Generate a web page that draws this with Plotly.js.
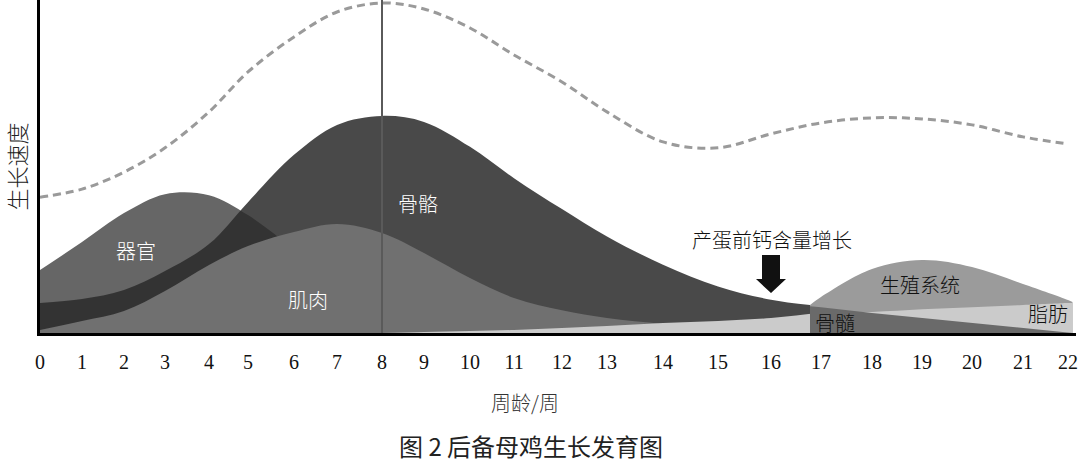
<!DOCTYPE html>
<html>
<head>
<meta charset="utf-8">
<script src="https://cdn.plot.ly/plotly-3.0.1.min.js"></script>
<style>html,body{margin:0;padding:0;background:#fff;}#chart{width:1080px;height:468px;}</style>
</head>
<body>
<div id="chart"></div>
<script>
// ---- data ----
const weeks = [0,1,2,3,4,5,6,7,8,9,10,11,12,13,14,15,16,17,18,19,20,21,22];
const weekLabels = weeks.map(String);
// the reference spaces its week labels unevenly; axis position of each week label
const weekTickPos = [0,42,84,125,169,208,254,297,342,384,430,474,522,567,623,678,731,781,832,882,932,983,1028];

// overall growth rate (dashed curve)
const overallWeeks = weeks;
const overallRate = [40.8,43.2,48.3,55.6,66.4,78.4,88.9,96.4,99.1,97.3,91.6,83.5,75.4,66.4,57.4,55.6,59.8,63.1,64.6,64.3,62.5,58.9,56.8];

// 器官 organs
const organWeeks = [0,1,2,3,4,5,6,7,8,9];
const organRate  = [18.9,27.3,36.0,41.7,41.4,35.4,24.9,12.9,5.4,0];

// 骨骼 skeleton
const skeletonWeeks = [0,1,2,3,4,5,6,7,8,9,10,11,12,13,14,15,16,16.78];
const skeletonRate  = [9.0,10.2,12.9,18.6,26.7,39.3,53.5,62.5,65.2,63.4,55.9,46.5,37.2,29.0,20.5,14.0,10.0,8.4];

// 肌肉 muscle
const muscleWeeks = [0,1,2,3,4,5,6,7,8,9,10,11,12,13,14,15,16];
const muscleRate  = [0.9,3.6,6.6,12.6,20.4,26.1,30.3,32.7,30.0,24.0,16.5,10.5,6.8,4.5,2.7,0.9,0];

// 生殖系统 reproductive system
const reproWeeks = [16.78,17,18,19,20,21,22,22.1];
const reproRate  = [8.4,10.8,19.2,21.9,19.8,14.7,9.9,9.3];

// 脂肪 fat
const fatWeeks = [8,9,10,11,12,13,14,15,16,17,18,19,20,21,22,22.1];
const fatRate  = [0,0.3,0.6,0.9,1.5,2.1,3.0,3.6,4.5,6.0,6.3,7.1,7.7,8.4,9.0,9.0];

// 骨髓 medullary bone
const marrowWeeks = [16.78,17,18,19,20,21,22,22.1];
const marrowRate  = [8.0,7.7,6.0,4.5,3.0,1.5,0.2,0];

// ---- week -> axis position (piecewise through the label positions) ----
function pos(w){
  const n = weeks.length;
  let i = Math.floor(w);
  if (i < 0) i = 0;
  if (i > n-2) i = n-2;
  const t = w - weeks[i];
  return weekTickPos[i] + t*(weekTickPos[i+1]-weekTickPos[i]);
}

const CJK = '"Noto Sans CJK SC", "Noto Sans", sans-serif';

function area(name, ws, vs, color, shape){
  return {
    type:'scatter', mode:'lines', name:name,
    x: ws.map(pos), y: vs,
    fill:'tozeroy', fillcolor: color,
    line:{width:0, shape: shape || 'spline', smoothing:1, color: color},
    hoverinfo:'skip', showlegend:false
  };
}

const traces = [
  area('器官', organWeeks, organRate, '#666666'),
  area('骨骼', skeletonWeeks, skeletonRate, 'rgba(43,43,43,0.86)'),
  area('肌肉', muscleWeeks, muscleRate, '#707070'),
  area('生殖系统', reproWeeks, reproRate, '#9b9b9b'),
  area('脂肪', fatWeeks, fatRate, '#cbcbcb'),
  area('骨髓', marrowWeeks, marrowRate, '#6a6a6a', 'linear'),
  {
    type:'scatter', mode:'lines', name:'总体生长',
    x: overallWeeks.map(pos), y: overallRate,
    line:{color:'#9a9a9a', width:3, dash:'8px,5px', shape:'spline', smoothing:1},
    hoverinfo:'skip', showlegend:false
  }
];

function label(text, w, v, color, size){
  return {x:pos(w), y:v, xref:'x', yref:'y', text:text, showarrow:false,
    font:{family:CJK, size:size||20, color:color, weight:300}, xanchor:'center', yanchor:'middle'};
}

const layout = {
  width:1080, height:468,
  margin:{l:40, r:4, t:0, b:135},
  paper_bgcolor:'#ffffff', plot_bgcolor:'#ffffff',
  showlegend:false,
  title:{text:'图 2 后备母鸡生长发育图', font:{family:CJK, size:24, color:'#222'},
         xref:'paper', x:0.474, xanchor:'center', yref:'container', y:0.043, yanchor:'middle'},
  xaxis:{
    range:[0,1036], autorange:false, showgrid:false, zeroline:false,
    showline:true, linecolor:'#000', linewidth:3,
    tickmode:'array', tickvals: weekTickPos, ticktext: weekLabels,
    ticks:'outside', ticklen:9, tickcolor:'rgba(0,0,0,0)',
    tickfont:{family:'"Liberation Serif", "Times New Roman", serif', size:20, color:'#111'},
    automargin:false, fixedrange:true
  },
  yaxis:{
    range:[0,100], autorange:false, showgrid:false, zeroline:false,
    showline:true, linecolor:'#000', linewidth:3,
    showticklabels:false, ticks:'',
    title:{text:'生长速度', font:{family:CJK, size:22, color:'#222', weight:300}, standoff:17},
    automargin:false, fixedrange:true
  },
  shapes:[
    {type:'line', xref:'x', yref:'paper', x0:pos(8), x1:pos(8), y0:0, y1:1,
     line:{color:'#5a5a5a', width:2}, layer:'above'},
    {type:'path', xref:'x', yref:'y', xsizemode:'pixel', ysizemode:'pixel',
     xanchor:pos(16), yanchor:12.0,
     path:'M-9,38 L9,38 L9,14 L15,14 L0,0 L-15,14 L-9,14 Z',
     fillcolor:'#111', line:{width:0}, layer:'above'}
  ],
  annotations:[
    label('器官', 2.29, 24.9, '#ffffff'),
    label('肌肉', 6.33, 10.2, '#ffffff'),
    label('骨骼', 8.86, 39.0, '#ffffff'),
    label('产蛋前钙含量增长', 16.02, 28.2, '#111'),
    label('生殖系统', 18.96, 14.7, '#111'),
    label('骨髓', 17.28, 3.3, '#111'),
    label('脂肪', 21.56, 6.0, '#111'),
    {text:'周龄/周', xref:'paper', yref:'paper', x:0.468, y:-0.21, showarrow:false,
     xanchor:'center', yanchor:'middle', font:{family:CJK, size:20, color:'#333', weight:300}}
  ]
};

Plotly.newPlot('chart', traces, layout, {displayModeBar:false, staticPlot:true});
</script>
</body>
</html>
